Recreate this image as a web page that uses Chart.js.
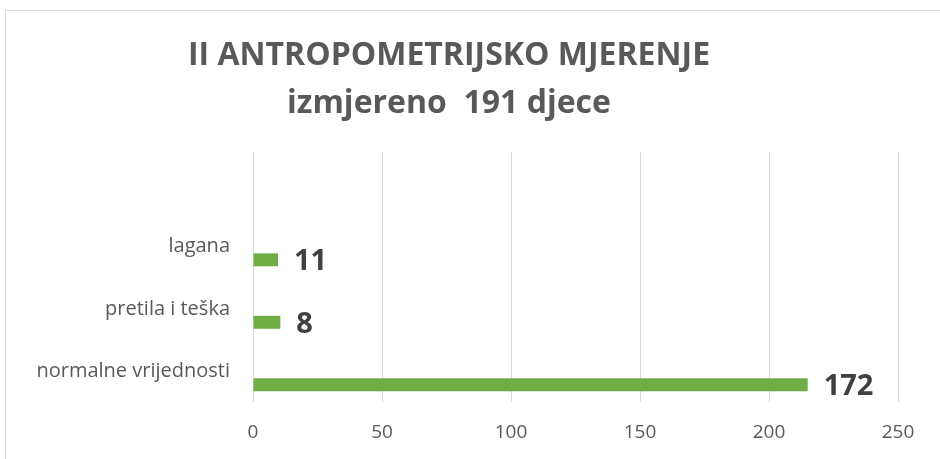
<!DOCTYPE html>
<html>
<head>
<meta charset="utf-8">
<script src="https://cdn.jsdelivr.net/npm/chart.js@4"></script>
<style>
  body { margin: 0; background: #fff; overflow: hidden; }
  #frame { position: absolute; left: 5px; top: 10px; width: 960px; height: 480px; border: 1px solid #d9d9d9; }
  canvas { position: absolute; left: 0; top: 0; }
</style>
</head>
<body>
<div id="frame"></div>
<canvas id="chart" width="940" height="459"></canvas>
<script>
// categories, top to bottom (first one is empty, as in the original)
var categories = ['', 'lagana', 'pretila i teška', 'normalne vrijednosti'];
// bar lengths as drawn in the picture
var barValues = [null, 9.7, 10.6, 215];
// numbers printed next to the bars
var barLabels = ['', '11', '8', '172'];
var xTicks = [0, 50, 100, 150, 200, 250];

var fontFamily = '"Open Sans", sans-serif';

var valueLabels = {
  id: 'valueLabels',
  afterDatasetsDraw: function(chart) {
    var ctx = chart.ctx;
    var meta = chart.getDatasetMeta(1);
    ctx.save();
    ctx.fillStyle = '#404040';
    ctx.font = 'bold 29px ' + fontFamily;
    ctx.textBaseline = 'middle';
    ctx.textAlign = 'left';
    meta.data.forEach(function(bar, i) {
      if (!barLabels[i]) return;
      ctx.fillText(barLabels[i], bar.x + 16, bar.y + 2);
    });
    ctx.restore();
  }
};

var ctx = document.getElementById('chart');
var chart = new Chart(ctx, {
  type: 'bar',
  data: {
    labels: categories,
    datasets: [
      { label: 'empty', data: categories.map(function() { return null; }), backgroundColor: 'rgba(0,0,0,0)' },
      { label: 'djeca', data: barValues, backgroundColor: '#70ad47' }
    ]
  },
  options: {
    indexAxis: 'y',
    responsive: false,
    animation: false,
    categoryPercentage: 0.9,
    barPercentage: 0.46,
    layout: { padding: { left: 0, right: 42, top: 0, bottom: 0 } },
    plugins: {
      legend: { display: false },
      tooltip: { enabled: false },
      title: {
        display: true,
        text: ['II ANTROPOMETRIJSKO MJERENJE', 'izmjereno  191 djece'],
        color: '#595959',
        font: { family: fontFamily, size: 32, weight: 'bold', lineHeight: 1.5 },
        padding: { top: 32, bottom: 24 }
      }
    },
    scales: {
      x: {
        min: 0,
        max: 250,
        afterBuildTicks: function(axis) {
          axis.ticks = xTicks.map(function(v) { return { value: v }; });
        },
        afterFit: function(axis) { axis.height = 57; },
        grid: { color: '#d9d9d9', drawTicks: false },
        border: { display: false },
        ticks: { color: '#595959', font: { family: fontFamily, size: 19 }, padding: 19 }
      },
      y: {
        afterFit: function(axis) { axis.width = 253; },
        grid: { display: false, drawTicks: false },
        border: { display: false },
        ticks: { color: '#595959', font: { family: fontFamily, size: 20 }, padding: 23, labelOffset: 1 }
      }
    }
  },
  plugins: [valueLabels]
});
</script>
</body>
</html>
